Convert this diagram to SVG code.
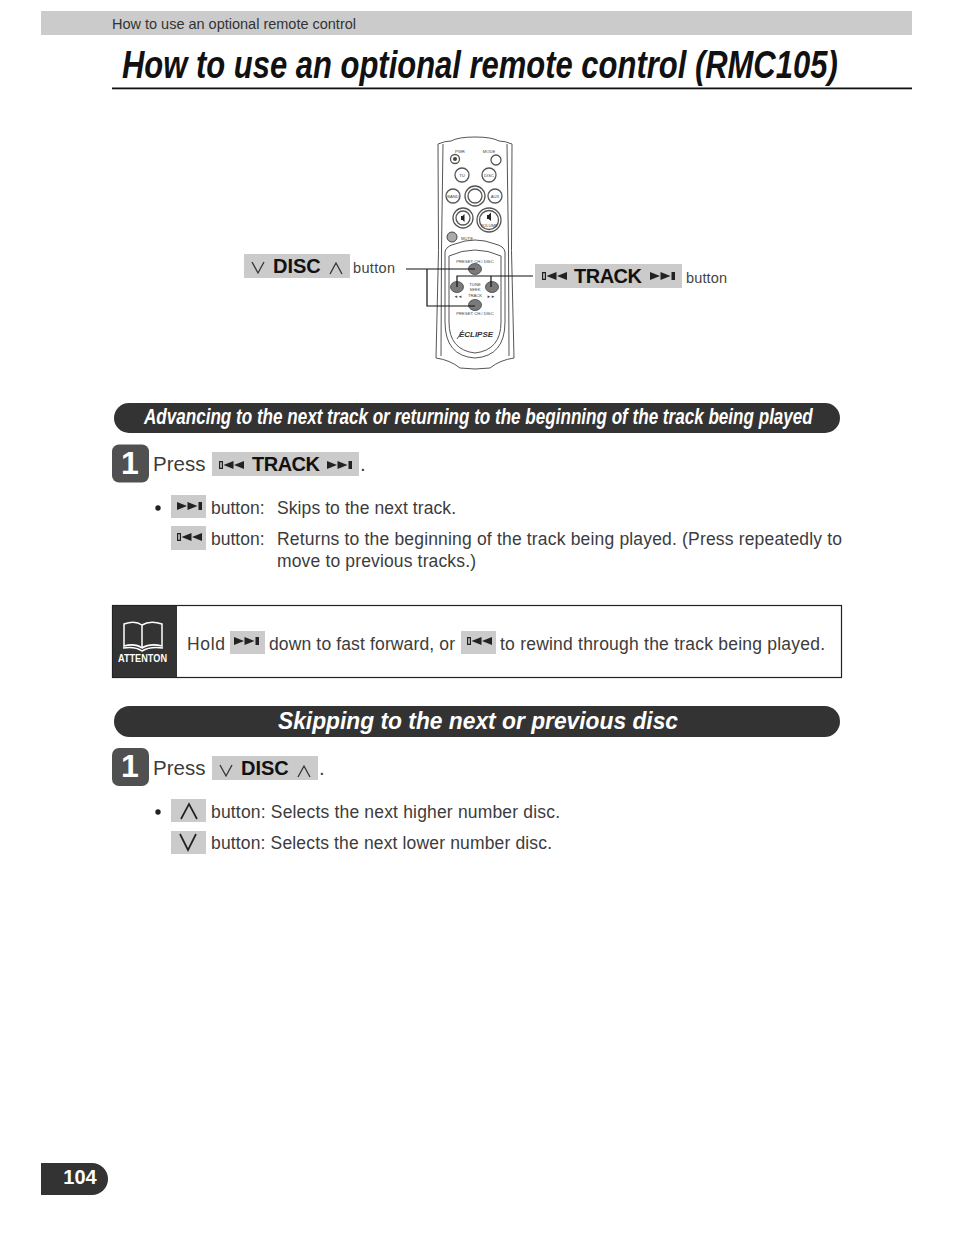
<svg xmlns="http://www.w3.org/2000/svg" width="954" height="1235" viewBox="0 0 954 1235">
<style>
text{font-family:"Liberation Sans",Arial,sans-serif;fill:#222}
.body{font-size:17.500px;fill:#3c3c3c}
.press{font-size:20.500px;fill:#3c3c3c}
.b{font-weight:700;fill:#111}
.key{fill:#cbcbcb}
.g{fill:#222}
.arr{fill:none;stroke:#333;stroke-width:1.300}
.conn{fill:none;stroke:#111;stroke-width:1.200}
.rm{fill:none;stroke:#555;stroke-width:1}
.btn{fill:#fff;stroke:#555;stroke-width:1.300}
.dbtn{fill:#7a7a7a;stroke:#444;stroke-width:.8}
.tiny{font-size:4.200px;fill:#444;text-anchor:middle}
.pill{fill:#333}
.small{font-size:14.500px;fill:#444}
</style>
<defs>
<g id="next"><path class="g" d="M0 0l10 4 -10 4zM10.500 0l10 4 -10 4zM21.500 0h3.500v8h-3.500z"/></g>
<g id="prev"><path class="g" fill-rule="evenodd" d="M0 0h4v8h-4zM1.200 1.200v5.600h1.600v-5.600z"/><path class="g" d="M14.500 0v8l-10 -4zM25 0v8l-10 -4z"/></g>
<g id="one"><rect width="37" height="38" rx="7" fill="#505050"/><text x="18" y="29" font-size="32" font-weight="700" text-anchor="middle" style="fill:#fff">1</text></g>
</defs>
<rect width="954" height="1235" fill="#fff"/>

<g id="header">
<rect x="41" y="11" width="871" height="24" fill="#cbcbcb"/>
<text x="112" y="29" font-size="14.500" textLength="244" style="fill:#333">How to use an optional remote control</text>
<text transform="translate(122 77.500) scale(.85 1)" font-size="38" font-weight="700" font-style="italic" textLength="842" lengthAdjust="spacingAndGlyphs" style="fill:#111">How to use an optional remote control (RMC105)</text>
<rect x="112" y="87.500" width="800" height="1.800" fill="#111"/>
</g>

<g id="remote">
<path class="rm" d="M438 144Q445 141 451 141Q458 137 475 137Q492 137 499 141Q505 141 512 144Q510 250 514 358Q500 360 490 368Q475 370 460 368Q450 360 436 358Q440 250 438 144Z"/>
<path class="rm" d="M443 144Q441 250 441 356M507 144Q509 250 509 356"/>
<path class="rm" d="M445 252Q446 246 455 244Q475 236 495 244Q504 246 505 252V322Q505 356 475 358Q445 356 445 322Z"/>
<path class="rm" d="M449 256Q475 244 501 256V322Q501 350 475 353Q449 350 449 322Z"/>
<circle class="btn" cx="455" cy="159" r="4.500"/><circle cx="455" cy="159" r="2" fill="#444"/>
<circle class="btn" cx="496" cy="160" r="5"/>
<circle class="btn" cx="462" cy="175" r="7"/><circle class="btn" cx="489" cy="175" r="7"/>
<circle class="btn" cx="453" cy="196" r="7"/><circle class="btn" cx="495" cy="196" r="7"/>
<circle class="btn" cx="475" cy="196" r="10"/><circle class="btn" cx="475" cy="196" r="7"/>
<circle class="btn" cx="463" cy="218" r="10"/><circle class="btn" cx="463" cy="218" r="7"/>
<circle class="btn" cx="489" cy="220" r="12"/><circle class="btn" cx="489" cy="220" r="9.500"/>
<path class="g" d="M461 216h1.500l2-2v8l-2-2h-1.500zM487 215h1.500l2.500-2.500v8.500l-2.500-2h-1.500z"/>
<circle cx="452" cy="237" r="5" fill="#aaa" stroke="#444"/>
<text class="tiny" x="460" y="152.500">PWR</text><text class="tiny" x="489" y="152.500">MODE</text>
<text class="tiny" x="462" y="176.500">TU</text><text class="tiny" x="489" y="176.500">DISC</text>
<text class="tiny" x="453" y="197.500">BAND</text><text class="tiny" x="495" y="197.500">AUX</text>
<text class="tiny" x="489" y="226.500">VOLUME</text><text class="tiny" x="467" y="240">MUTE</text>
<text class="tiny" x="475" y="262.500">PRESET CH / DISC</text>
<text class="tiny" x="475" y="286">TUNE</text><text class="tiny" x="475" y="290.500">SEEK</text><text class="tiny" x="475" y="297">TRACK</text>
<text class="tiny" x="475" y="315">PRESET CH / DISC</text>
<text class="tiny" x="458" y="297.500">◄◄</text><text class="tiny" x="491" y="297.500">►►</text>
<text x="476" y="337" font-size="8" font-weight="700" font-style="italic" text-anchor="middle" style="fill:#333">ECLIPSE</text>
<path class="rm" d="M457 339L463 330"/>
<ellipse class="dbtn" cx="475" cy="269" rx="6.500" ry="5.500"/>
<ellipse class="dbtn" cx="475" cy="305" rx="6.500" ry="5.500"/>
<ellipse class="dbtn" cx="457" cy="287" rx="6.500" ry="5.500"/>
<ellipse class="dbtn" cx="492" cy="287" rx="6.500" ry="5.500"/>
</g>

<g id="connectors">
<path class="conn" d="M406 269H475M427 269V306H475"/>
<path class="conn" d="M533 276H457V287M491 276V287"/>
</g>

<g id="disc-label">
<rect class="key" x="244" y="254" width="106" height="24"/>
<path class="arr" d="M252 262l6 11 6-11M330 274l6-11 6 11"/>
<text class="b" x="273" y="273" font-size="20">DISC</text>
<text class="small" x="353" y="273" textLength="42">button</text>
</g>
<g id="track-label">
<rect class="key" x="535" y="264" width="147" height="24"/>
<use href="#prev" x="542" y="272"/>
<text class="b" x="574" y="283" font-size="20" textLength="68">TRACK</text>
<use href="#next" x="650" y="272"/>
<text class="small" x="686" y="283" textLength="41">button</text>
</g>

<g id="section-1">
<rect class="pill" x="114" y="403" width="726" height="30" rx="15"/>
<text transform="translate(144 424) scale(.8 1)" font-size="22.500" font-weight="700" font-style="italic" textLength="836" lengthAdjust="spacingAndGlyphs" style="fill:#fff">Advancing to the next track or returning to the beginning of the track being played</text>
</g>
<g id="step-1">
<use href="#one" x="112" y="444.500"/>
<text class="press" x="153" y="471">Press</text>
<rect class="key" x="212" y="452" width="147" height="24"/>
<use href="#prev" x="219" y="461"/>
<text class="b" x="252" y="471" font-size="20" textLength="68">TRACK</text>
<use href="#next" x="327" y="461"/>
<text class="press" x="360" y="471">.</text>
<circle cx="158" cy="508" r="2.700" fill="#222"/>
<rect class="key" x="171" y="495" width="35" height="23"/>
<use href="#next" x="177" y="502"/>
<text class="body" x="211" y="514">button:</text>
<text class="body" x="277" y="514" textLength="179">Skips to the next track.</text>
<rect class="key" x="171" y="526" width="35" height="24"/>
<use href="#prev" x="177" y="533"/>
<text class="body" x="211" y="545">button:</text>
<text class="body" x="277" y="545" textLength="565">Returns to the beginning of the track being played. (Press repeatedly to</text>
<text class="body" x="277" y="567" textLength="199">move to previous tracks.)</text>
</g>
<g id="attention">
<rect x="112.500" y="605.500" width="729" height="72" fill="#fff" stroke="#222" stroke-width="1.200"/>
<rect x="113" y="606" width="64" height="71" fill="#333"/>
<path d="M124 624Q135 620 142 625Q150 620 162 624V646Q150 643 142 648Q135 643 124 646ZM142 625V648M123 648Q135 646 142 651Q150 646 163 648" fill="none" stroke="#fff" stroke-width="1.500"/>
<text x="142.500" y="662" font-size="10.500" font-weight="700" text-anchor="middle" textLength="49" lengthAdjust="spacingAndGlyphs" style="fill:#fff">ATTENTON</text>
<text class="body" x="187" y="650" textLength="38">Hold</text>
<rect class="key" x="230" y="631" width="35" height="23"/>
<use href="#next" x="234" y="637"/>
<text class="body" x="269" y="650" textLength="186">down to fast forward, or</text>
<rect class="key" x="461" y="631" width="35" height="23"/>
<use href="#prev" x="467" y="637"/>
<text class="body" x="500" y="650" textLength="325">to rewind through the track being played.</text>
</g>
<g id="section-2">
<rect class="pill" x="114" y="706" width="726" height="31" rx="15.500"/>
<text x="278" y="729" font-size="23" font-weight="700" font-style="italic" textLength="400" lengthAdjust="spacingAndGlyphs" style="fill:#fff">Skipping to the next or previous disc</text>
</g>
<g id="step-2">
<use href="#one" x="112" y="748"/>
<text class="press" x="153" y="775">Press</text>
<rect class="key" x="212" y="756" width="106" height="24"/>
<path class="arr" d="M220 765l6 11 6-11M298 777l6-11 6 11"/>
<text class="b" x="241" y="775" font-size="20">DISC</text>
<text class="press" x="319" y="775">.</text>
<circle cx="158" cy="812" r="2.700" fill="#222"/>
<rect class="key" x="171" y="799" width="35" height="23"/>
<path d="M181 819l8-15 8 15" fill="none" stroke="#222" stroke-width="1.700"/>
<text class="body" x="211" y="818" textLength="349">button: Selects the next higher number disc.</text>
<rect class="key" x="171" y="831" width="35" height="23"/>
<path d="M180 834l8 16 8-16" fill="none" stroke="#222" stroke-width="1.700"/>
<text class="body" x="211" y="849" textLength="341">button: Selects the next lower number disc.</text>
</g>
<g id="page-number">
<path d="M41 1163H92a15.500 15.500 0 0 1 0 32H41Z" fill="#333"/>
<text x="80" y="1184" font-size="20" font-weight="700" text-anchor="middle" style="fill:#fff">104</text>
</g>
</svg>
